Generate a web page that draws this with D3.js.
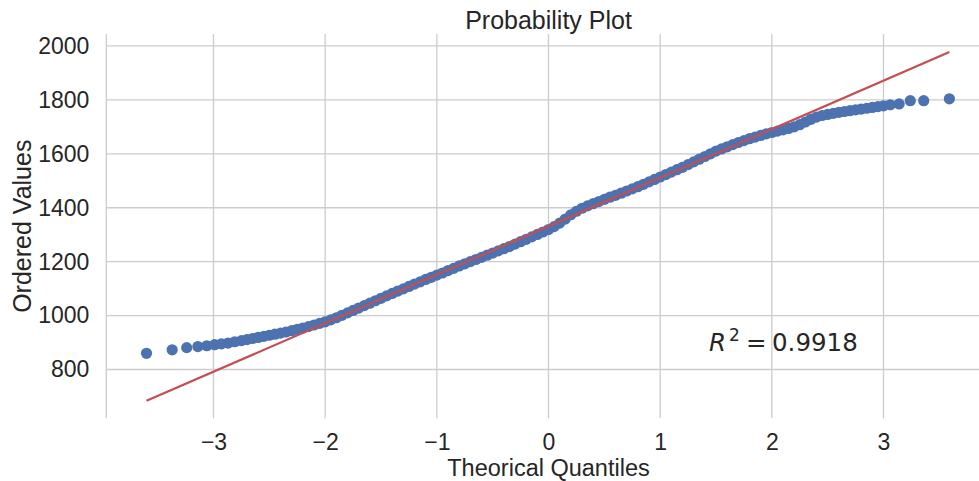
<!DOCTYPE html>
<html>
<head>
<meta charset="utf-8">
<script src="https://cdn.jsdelivr.net/npm/d3@7/dist/d3.min.js"></script>
<style>
  html, body { margin: 0; padding: 0; background: #ffffff; }
  svg { display: block; }
  text { fill: #262626; }
</style>
</head>
<body>
<svg id="chart" width="979" height="481"></svg>
<script>
// Normal probability plot: ordered sample values against theoretical quantiles
const theoreticalQuantiles = [
  -3.60, -3.37, -3.24, -3.14, -3.06, -2.99, -2.93, -2.87, -2.81, -2.75,
  -2.70, -2.65, -2.60, -2.55, -2.50, -2.45, -2.40, -2.35, -2.30, -2.25,
  -2.20, -2.15, -2.10, -2.05, -2.00, -1.95, -1.90, -1.85, -1.80, -1.75,
  -1.70, -1.65, -1.60, -1.55, -1.50, -1.45, -1.40, -1.35, -1.30, -1.25,
  -1.20, -1.15, -1.10, -1.05, -1.00, -0.95, -0.90, -0.85, -0.80, -0.75,
  -0.70, -0.65, -0.60, -0.55, -0.50, -0.45, -0.40, -0.35, -0.30, -0.25,
  -0.20, -0.15, -0.10, -0.05, 0.00, 0.05, 0.10, 0.15, 0.20, 0.25,
  0.30, 0.35, 0.40, 0.45, 0.50, 0.55, 0.60, 0.65, 0.70, 0.75,
  0.80, 0.85, 0.90, 0.95, 1.00, 1.05, 1.10, 1.15, 1.20, 1.25,
  1.30, 1.35, 1.40, 1.45, 1.50, 1.55, 1.60, 1.65, 1.70, 1.75,
  1.80, 1.85, 1.90, 1.95, 2.00, 2.05, 2.10, 2.15, 2.20, 2.25,
  2.30, 2.35, 2.40, 2.45, 2.50, 2.55, 2.60, 2.65, 2.70, 2.75,
  2.80, 2.85, 2.90, 2.95, 3.00, 3.06, 3.14, 3.24, 3.36, 3.59
];
const orderedValues = [
  860, 873, 881, 885, 888, 892, 895, 898, 903, 907,
  911, 915, 919, 923, 927, 931, 935, 939, 944, 949,
  954, 959, 965, 971, 977, 984, 992, 1001, 1010, 1019,
  1028, 1037, 1046, 1055, 1064, 1073, 1082, 1091, 1099, 1108,
  1117, 1125, 1134, 1142, 1150, 1158, 1167, 1175, 1184, 1192,
  1200, 1208, 1216, 1224, 1232, 1240, 1248, 1256, 1265, 1274,
  1283, 1292, 1301, 1310, 1319, 1330, 1343, 1358, 1374, 1387,
  1398, 1407, 1415, 1423, 1431, 1439, 1446, 1454, 1462, 1470,
  1478, 1487, 1496, 1505, 1514, 1523, 1532, 1541, 1550, 1560,
  1570, 1580, 1590, 1600, 1610, 1618, 1626, 1634, 1642, 1649,
  1656, 1662, 1668, 1674, 1679, 1684, 1689, 1694, 1700, 1708,
  1718, 1728, 1736, 1742, 1746, 1750, 1754, 1757, 1760, 1763,
  1766, 1769, 1772, 1775, 1778, 1782, 1785, 1797, 1797, 1804
];

// Least-squares fit line and its coefficient of determination
const fitSlope = 179.9;
const fitIntercept = 1331.5;
const rSquared = 0.9918;

const xTicks = [-3, -2, -1, 0, 1, 2, 3];
const yTicks = [800, 1000, 1200, 1400, 1600, 1800, 2000];
const xDomain = [-3.96, 3.96];
const yDomain = [619, 2044];

const titleText = "Probability Plot";
const xLabelText = "Theorical Quantiles";
const yLabelText = "Ordered Values";

// Layout
const plot = { left: 106.3, top: 34.1, right: 990.7, bottom: 418.3 };
const FONT = "'Liberation Sans', Arial, Helvetica, sans-serif";
const MATH_FONT = "'DejaVu Sans', sans-serif";
const gridColor = "#cccccc";
const pointColor = "#4c72b0";
const lineColor = "#c44e52";

const svg = d3.select("#chart");

const x = d3.scaleLinear().domain(xDomain).range([plot.left, plot.right]);
const y = d3.scaleLinear().domain(yDomain).range([plot.bottom, plot.top]);

// Grid
const grid = svg.append("g").attr("class", "grid");
grid.selectAll("line.vgrid").data(xTicks).join("line")
  .attr("class", "vgrid")
  .attr("x1", d => x(d)).attr("x2", d => x(d))
  .attr("y1", plot.top).attr("y2", plot.bottom)
  .attr("stroke", gridColor).attr("stroke-width", 1.3);
grid.selectAll("line.hgrid").data(yTicks).join("line")
  .attr("class", "hgrid")
  .attr("x1", plot.left).attr("x2", plot.right)
  .attr("y1", d => y(d)).attr("y2", d => y(d))
  .attr("stroke", gridColor).attr("stroke-width", 1.3);

// Left spine
svg.append("line")
  .attr("x1", plot.left).attr("x2", plot.left)
  .attr("y1", plot.top).attr("y2", plot.bottom)
  .attr("stroke", gridColor).attr("stroke-width", 1.3);

// Axes (labels only)
const xAxis = svg.append("g")
  .attr("transform", `translate(0,${plot.bottom})`)
  .call(d3.axisBottom(x).tickValues(xTicks).tickSize(0).tickPadding(15));
const yAxis = svg.append("g")
  .attr("transform", `translate(${plot.left},0)`)
  .call(d3.axisLeft(y).tickValues(yTicks).tickSize(0).tickPadding(17).tickFormat(d3.format("d")));
[xAxis, yAxis].forEach(g => {
  g.select(".domain").remove();
  g.selectAll("text")
    .attr("fill", "#262626")
    .style("font-family", FONT)
    .style("font-size", "23px");
});

// Sample points
const points = theoreticalQuantiles.map((q, i) => ({ q, v: orderedValues[i] }));
svg.append("g").selectAll("circle").data(points).join("circle")
  .attr("cx", d => x(d.q))
  .attr("cy", d => y(d.v))
  .attr("r", 5.6)
  .attr("fill", pointColor);

// Fit line over the quantile extent
const qExtent = d3.extent(theoreticalQuantiles);
svg.append("path")
  .datum(qExtent.map(q => ({ q, v: fitIntercept + fitSlope * q })))
  .attr("d", d3.line().x(d => x(d.q)).y(d => y(d.v)))
  .attr("fill", "none")
  .attr("stroke", lineColor)
  .attr("stroke-width", 2.2);

// Title and axis labels
svg.append("text")
  .attr("x", (plot.left + plot.right) / 2).attr("y", 29.3)
  .attr("text-anchor", "middle")
  .style("font-family", FONT).style("font-size", "25px")
  .text(titleText);
svg.append("text")
  .attr("x", (plot.left + plot.right) / 2).attr("y", 475.9)
  .attr("text-anchor", "middle")
  .style("font-family", FONT).style("font-size", "23.5px")
  .text(xLabelText);
svg.append("text")
  .attr("transform", `translate(30.5,${(plot.top + plot.bottom) / 2}) rotate(-90)`)
  .attr("text-anchor", "middle")
  .style("font-family", FONT).style("font-size", "25px")
  .text(yLabelText);

// R² annotation
const ann = svg.append("text")
  .attr("x", 709).attr("y", 351)
  .style("font-family", MATH_FONT).style("font-size", "24.5px");
ann.append("tspan").style("font-style", "italic").text("R");
ann.append("tspan").attr("x", 729).attr("dy", -10).style("font-size", "17px").text("2");
ann.append("tspan").attr("x", 746).attr("dy", 10).text("=");
ann.append("tspan").attr("x", 772).text(rSquared.toFixed(4));
</script>
</body>
</html>
